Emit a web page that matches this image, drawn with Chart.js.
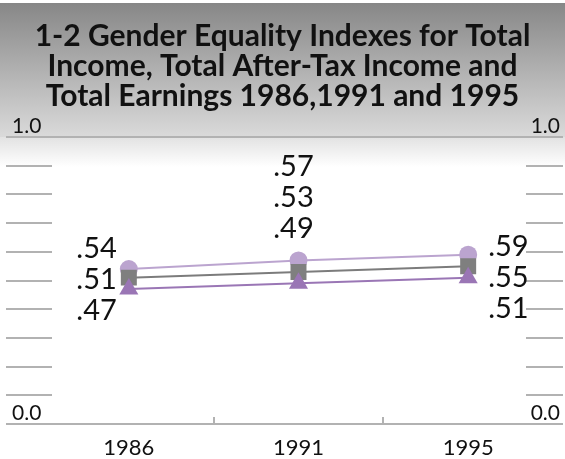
<!DOCTYPE html>
<html><head><meta charset="utf-8">
<script src="https://cdn.jsdelivr.net/npm/chart.js@4.4.1/dist/chart.umd.min.js"></script>
<style>html,body{margin:0;padding:0;background:#fff}#wrap{width:565px;height:459px}</style>
</head><body><div id="wrap"><canvas id="c" width="565" height="459"></canvas></div>
<script>
// ---- data ----
const categories = ['1986', '1991', '1995'];
const upperSeries = [0.54, 0.57, 0.59];   // circles
const middleSeries = [0.51, 0.53, 0.55];  // squares
const lowerSeries = [0.47, 0.49, 0.51];   // triangles
const yTickLabels = { 0: '0.0', 1: '1.0' };
const titleLines = ['1-2 Gender Equality Indexes for Total', 'Income, Total After-Tax Income and', 'Total Earnings 1986,1991 and 1995'];
const labelPlacement = ['left', 'top', 'right'];

const FONT = 'Lato';
const yLabelFor = (v) => {
  const r = Math.round(v * 10) / 10;
  return yTickLabels[r] !== undefined && Math.abs(v - r) < 1e-6 ? yTickLabels[r] : '';
};

const bgPlugin = {
  id: 'bg',
  beforeDraw(chart) {
    const ctx = chart.ctx, W = chart.width, H = chart.height;
    const top = chart.chartArea.top;
    ctx.save();
    ctx.fillStyle = '#fff';
    ctx.fillRect(0, 0, W, H);
    let g = ctx.createLinearGradient(0, 3, 0, top);
    g.addColorStop(0, '#878787');
    g.addColorStop(1, '#dadada');
    ctx.fillStyle = g;
    ctx.fillRect(0, 3, W, top - 3);
    g = ctx.createLinearGradient(0, top, 0, top + 30);
    g.addColorStop(0, '#e2e2e2');
    g.addColorStop(1, '#ffffff');
    ctx.fillStyle = g;
    ctx.fillRect(0, top, W, 30);
    ctx.restore();
  }
};

const decoPlugin = {
  id: 'deco',
  beforeDatasetsDraw(chart) {
    const ctx = chart.ctx, y = chart.scales.y, x = chart.scales.x, W = chart.width;
    ctx.save();
    ctx.strokeStyle = '#b2b2b2';
    ctx.lineWidth = 2;
    [1, 0].forEach(v => {
      const py = Math.round(y.getPixelForValue(v));
      ctx.beginPath(); ctx.moveTo(6, py); ctx.lineTo(W - 2, py); ctx.stroke();
    });
    y.ticks.forEach(t => {
      if (t.value <= 0.0001 || t.value >= 0.9999) return;
      const py = Math.round(y.getPixelForValue(t.value));
      ctx.beginPath(); ctx.moveTo(6, py); ctx.lineTo(52, py); ctx.stroke();
      ctx.beginPath(); ctx.moveTo(526, py); ctx.lineTo(W - 2, py); ctx.stroke();
    });
    const by = y.getPixelForValue(0);
    for (let i = 1; i < categories.length; i++) {
      const px = Math.round((x.getPixelForValue(i - 1) + x.getPixelForValue(i)) / 2);
      ctx.beginPath(); ctx.moveTo(px, by); ctx.lineTo(px, by - 7); ctx.stroke();
    }
    // right-hand copies of the y tick labels
    ctx.fillStyle = '#111';
    ctx.font = '21px ' + FONT;
    ctx.textAlign = 'right';
    ctx.textBaseline = 'middle';
    y.ticks.forEach(t => {
      const s = yLabelFor(t.value);
      if (s) ctx.fillText(s, W - 5, y.getPixelForValue(t.value) - 11);
    });
    ctx.restore();
  }
};

const valueLabelPlugin = {
  id: 'vlabels',
  afterDatasetsDraw(chart) {
    const ctx = chart.ctx;
    ctx.save();
    ctx.font = '29px ' + FONT;
    ctx.fillStyle = '#111';
    ctx.textBaseline = 'middle';
    const metas = chart.data.datasets.map((d, i) => chart.getDatasetMeta(i));
    const step = 31;
    categories.forEach((c, ci) => {
      const items = chart.data.datasets.map((d, di) => ({ v: d.data[ci], pt: metas[di].data[ci] }))
        .sort((a, b) => b.v - a.v);
      const txt = items.map(it => it.v.toFixed(2).replace(/^0/, ''));
      const mode = labelPlacement[ci];
      if (mode === 'left') {
        ctx.textAlign = 'right';
        const cx = items[1].pt.x - 12, cy = items[1].pt.y + 2;
        txt.forEach((t, k) => ctx.fillText(t, cx, cy + (k - 1) * step));
      } else if (mode === 'right') {
        ctx.textAlign = 'left';
        const cx = items[1].pt.x + 20, cy = items[1].pt.y + 11;
        txt.forEach((t, k) => ctx.fillText(t, cx, cy + (k - 1) * step));
      } else {
        ctx.textAlign = 'center';
        const cx = items[0].pt.x - 5, by = items[0].pt.y - 32;
        txt.forEach((t, k) => ctx.fillText(t, cx, by - (2 - k) * step));
      }
    });
    ctx.restore();
  }
};

new Chart(document.getElementById('c'), {
  type: 'line',
  data: {
    labels: categories,
    datasets: [
      { label: 'upper', data: upperSeries, order: 3, borderColor: '#bba4cf', backgroundColor: '#bba4cf',
        pointStyle: 'circle', pointRadius: 9, pointBorderWidth: 0, borderWidth: 2 },
      { label: 'middle', data: middleSeries, order: 2, borderColor: '#7c7c7c', backgroundColor: '#7f7f7f',
        pointStyle: 'rect', pointRadius: 11.3, pointBorderWidth: 0, borderWidth: 2 },
      { label: 'lower', data: lowerSeries, order: 1, borderColor: '#9a76b5', backgroundColor: '#9a76b5',
        pointStyle: 'triangle', pointRadius: 11, pointBorderWidth: 0, borderWidth: 2 }
    ]
  },
  options: {
    responsive: false,
    animation: false,
    devicePixelRatio: 1,
    layout: { padding: { left: 12, right: 12, top: 0, bottom: 0 } },
    plugins: {
      legend: { display: false },
      tooltip: { enabled: false },
      title: {
        display: true,
        text: titleLines,
        color: '#111',
        font: { family: FONT, size: 30, weight: 'bold', lineHeight: 1.0 },
        padding: { top: 21, bottom: 26 }
      }
    },
    scales: {
      x: {
        type: 'category',
        offset: true,
        grid: { display: false, drawTicks: false },
        border: { display: false },
        ticks: { color: '#111', font: { family: FONT, size: 22 }, padding: 11 },
        afterFit: (s) => { s.height = 35; }
      },
      y: {
        position: 'left',
        min: 0, max: 1,
        grid: { display: false, drawTicks: false },
        border: { display: false },
        ticks: {
          stepSize: 0.1, autoSkip: false, crossAlign: 'far', padding: 0, labelOffset: -11,
          color: '#111', font: { family: FONT, size: 21 },
          callback: (v) => yLabelFor(v)
        },
        afterFit: (s) => { s.width = 32; }
      }
    }
  },
  plugins: [bgPlugin, decoPlugin, valueLabelPlugin]
});
</script>
</body></html>
